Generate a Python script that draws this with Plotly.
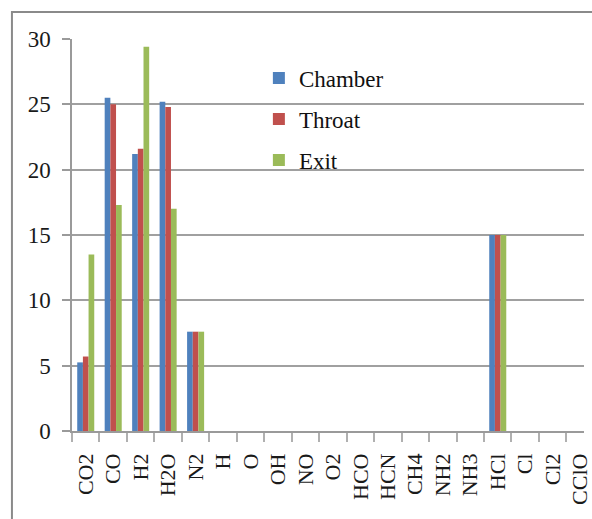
import plotly.graph_objects as go

# Species mole fractions (%) at three nozzle stations
species = ["CO2", "CO", "H2", "H2O", "N2", "H", "O", "OH", "NO", "O2",
           "HCO", "HCN", "CH4", "NH2", "NH3", "HCl", "Cl", "Cl2", "CClO"]
chamber = [5.25, 25.5, 21.2, 25.2, 7.6, 0, 0, 0, 0, 0, 0, 0, 0, 0, 0, 15.0, 0, 0, 0]
throat = [5.7, 25.0, 21.6, 24.8, 7.6, 0, 0, 0, 0, 0, 0, 0, 0, 0, 0, 15.0, 0, 0, 0]
exit_ = [13.5, 17.3, 29.4, 17.0, 7.6, 0, 0, 0, 0, 0, 0, 0, 0, 0, 0, 15.0, 0, 0, 0]

series = [("Chamber", chamber, "#4F81BD"),
          ("Throat", throat, "#C0504D"),
          ("Exit", exit_, "#9BBB59")]

FONT = "Liberation Serif"

fig = go.Figure()
for i, (name, vals, color) in enumerate(series):
    fig.add_trace(go.Bar(
        x=species, y=vals, name=name, legendgroup=f"g{i}",
        marker=dict(color=color, line=dict(width=0)),
    ))

W, H = 592, 519
ml, mr, mt, mb = 72, 0, 39, 88
pw, ph = W - ml - mr, H - mt - mb

fig.update_layout(
    width=W, height=H,
    margin=dict(l=ml, r=mr, t=mt, b=mb, pad=0),
    paper_bgcolor="white", plot_bgcolor="white",
    barmode="group", bargap=0.38, bargroupgap=0,
    font=dict(family=FONT, size=22, color="#1a1a1a"),
    showlegend=True,
    legend=dict(
        x=0.365, y=0.955, xanchor="left", yanchor="top",
        bgcolor="rgba(0,0,0,0)", traceorder="grouped",
        tracegroupgap=8, itemwidth=30,
        font=dict(family=FONT, size=23, color="#111"),
    ),
    xaxis=dict(
        type="category", range=[-0.5, 18.14],
        showline=True, linecolor="#9a9a9a", linewidth=1.5,
        ticks="outside", tickson="boundaries", ticklen=9,
        tickcolor="#b0b0b0", tickwidth=1.5,
        tickangle=-90, showgrid=False,
        tickfont=dict(family=FONT, size=22, color="#1a1a1a"),
        ticklabelstandoff=12,
    ),
    yaxis=dict(
        range=[0, 30], dtick=5,
        showline=True, linecolor="#9a9a9a", linewidth=1.5,
        ticks="outside", ticklen=8, tickcolor="#9a9a9a", tickwidth=1.5,
        showgrid=True, gridcolor="#a0a0a0", gridwidth=1.5,
        zeroline=False,
        tickfont=dict(family=FONT, size=23, color="#1a1a1a"),
        ticklabelstandoff=7,
    ),
)

# Outer chart frame, running off the right and bottom edges
fx0 = (11 - ml) / pw
fy1 = 1 + (mt - 12) / ph
fig.add_shape(type="rect", xref="paper", yref="paper",
              x0=fx0, x1=1.2, y0=-0.5, y1=fy1,
              line=dict(color="#8a8a8a", width=2), fillcolor="rgba(0,0,0,0)",
              layer="below")

fig.write_html("out.html")
